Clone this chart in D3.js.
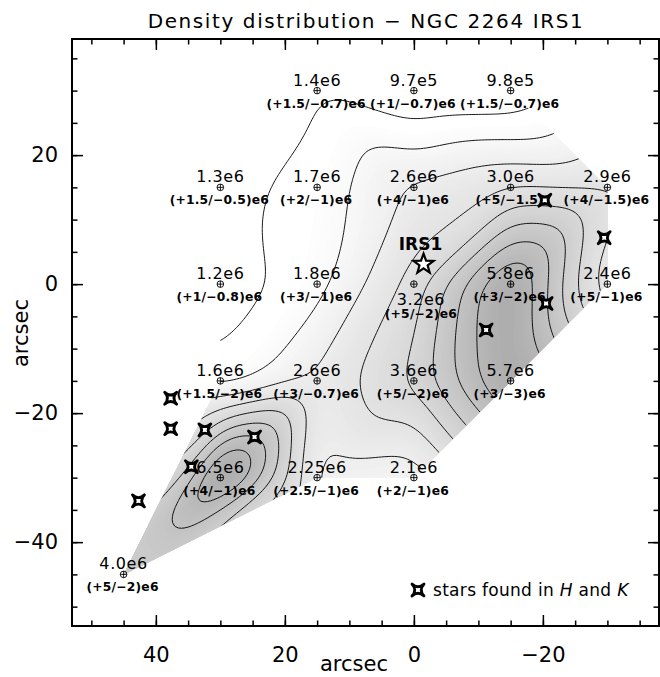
<!DOCTYPE html>
<html>
<head>
<meta charset="utf-8">
<script src="https://cdn.jsdelivr.net/npm/d3@7"></script>
<style>
  body { margin: 0; background: #fff; }
  text { font-family: "DejaVu Sans", sans-serif; }
</style>
</head>
<body>
<div id="chart"></div>
<script>
// measured positions (arcsec offsets), densities and their error strings
const posX = [15, 0, -15, 30, 15, 0, -15, -30, 30, 15, 0, -15, -30, 30, 15, 0, -15, 30, 15, 0, 45];
const posY = [30, 30, 30, 15, 15, 15, 15, 15, 0, 0, 0, 0, 0, -15, -15, -15, -15, -30, -30, -30, -45];
const density = [1.4e6, 9.7e5, 9.8e5, 1.3e6, 1.7e6, 2.6e6, 3.0e6, 2.9e6, 1.2e6, 1.8e6, 3.2e6, 5.8e6, 2.4e6,
  1.6e6, 2.6e6, 3.6e6, 5.7e6, 6.5e6, 2.25e6, 2.1e6, 4.0e6];
const densityText = ["1.4e6", "9.7e5", "9.8e5", "1.3e6", "1.7e6", "2.6e6", "3.0e6", "2.9e6", "1.2e6", "1.8e6",
  "3.2e6", "5.8e6", "2.4e6", "1.6e6", "2.6e6", "3.6e6", "5.7e6", "6.5e6", "2.25e6", "2.1e6", "4.0e6"];
const errorText = ["(+1.5/−0.7)e6", "(+1/−0.7)e6", "(+1.5/−0.7)e6",
  "(+1.5/−0.5)e6", "(+2/−1)e6", "(+4/−1)e6", "(+5/−1.5)", "(+4/−1.5)e6",
  "(+1/−0.8)e6", "(+3/−1)e6", "(+5/−2)e6", "(+3/−2)e6", "(+5/−1)e6",
  "(+1.5/−2)e6", "(+3/−0.7)e6", "(+5/−2)e6", "(+3/−3)e6",
  "(+4/−1)e6", "(+2.5/−1)e6", "(+2/−1)e6", "(+5/−2)e6"];

// outline of the mapped area
const mapOutline = [[45, -45], [30, -15], [30, 15], [15, 30], [-15, 30], [-30, 15], [-30, 0], [0, -30], [15, -30]];

// stars found in H and K
const starX = [-20.3, -29.5, -20.5, -11.2, 37.7, 37.7, 32.4, 24.7, 34.5, 42.7];
const starY = [13.0, 7.2, -3.0, -7.1, -17.7, -22.4, -22.6, -23.7, -28.3, -33.6];
const irs1 = [-1.5, 3.1];

const contourLevels = d3.range(1.5, 6.01, 0.5);   // in units of 1e6
const greyLevels = d3.range(1.5, 9, 0.06);

const xTicksMajor = [40, 20, 0, -20];
const yTicksMajor = [20, 0, -20, -40];

const width = 660, height = 677;
const x = d3.scaleLinear().domain([53, -38]).range([72, 659]);
const y = d3.scaleLinear().domain([38, -53]).range([39, 626]);
const grey = d3.scaleLinear().domain([1.7, 13.5]).range(["#ffffff", "#000000"]).clamp(true);

const svg = d3.select("#chart").append("svg")
  .attr("width", width)
  .attr("height", height);

// ---- linear interpolation on the triangulated points, then a light smoothing ----
const pts = posX.map((d, i) => [d, posY[i]]);
const delaunay = d3.Delaunay.from(pts);
const tris = [];
for (let t = 0; t < delaunay.triangles.length; t += 3) {
  const [a, b, c] = [delaunay.triangles[t], delaunay.triangles[t + 1], delaunay.triangles[t + 2]];
  // test a point a hair off the centroid so it never sits on a horizontal outline edge
  const cen = [(pts[a][0] + pts[b][0] + pts[c][0]) / 3 + 0.013, (pts[a][1] + pts[b][1] + pts[c][1]) / 3 + 0.017];
  if (d3.polygonContains(mapOutline, cen)) tris.push([a, b, c]);
}
function linear(ax, ay) {
  for (const [a, b, c] of tris) {
    const [x1, y1] = pts[a], [x2, y2] = pts[b], [x3, y3] = pts[c];
    const det = (y2 - y3) * (x1 - x3) + (x3 - x2) * (y1 - y3);
    const l1 = ((y2 - y3) * (ax - x3) + (x3 - x2) * (ay - y3)) / det;
    const l2 = ((y3 - y1) * (ax - x3) + (x1 - x3) * (ay - y3)) / det;
    const l3 = 1 - l1 - l2;
    if (l1 >= -1e-9 && l2 >= -1e-9 && l3 >= -1e-9)
      return (l1 * density[a] + l2 * density[b] + l3 * density[c]) / 1e6;
  }
  return NaN;
}

const step = 0.5, gx0 = 49, gy0 = 34, nx = 167, ny = 167;
const num = new Float64Array(nx * ny), den = new Float64Array(nx * ny);
for (let j = 0; j < ny; j++)
  for (let i = 0; i < nx; i++) {
    const v = linear(gx0 - i * step, gy0 - j * step);
    if (!isNaN(v)) { num[j * nx + i] = v; den[j * nx + i] = 1; }
  }

const sigma = 4.5, rad = 14;
const kern = d3.range(-rad, rad + 1).map(k => Math.exp(-k * k / (2 * sigma * sigma)));
function blur(src) {
  const tmp = new Float64Array(nx * ny), out = new Float64Array(nx * ny);
  for (let j = 0; j < ny; j++)
    for (let i = 0; i < nx; i++) {
      let acc = 0;
      for (let k = -rad; k <= rad; k++) {
        const ii = i + k;
        if (ii >= 0 && ii < nx) acc += kern[k + rad] * src[j * nx + ii];
      }
      tmp[j * nx + i] = acc;
    }
  for (let j = 0; j < ny; j++)
    for (let i = 0; i < nx; i++) {
      let acc = 0;
      for (let k = -rad; k <= rad; k++) {
        const jj = j + k;
        if (jj >= 0 && jj < ny) acc += kern[k + rad] * tmp[jj * nx + i];
      }
      out[j * nx + i] = acc;
    }
  return out;
}
const bn = blur(num), bd = blur(den);
const values = new Float64Array(nx * ny);
for (let k = 0; k < values.length; k++) values[k] = bd[k] > 0.3 ? bn[k] / bd[k] : -1;

const proj = d3.geoTransform({
  point(cx, cy) { this.stream.point(x(gx0 - (cx - 0.5) * step), y(gy0 - (cy - 0.5) * step)); }
});
const path = d3.geoPath(proj);
const contours = d3.contours().size([nx, ny]);

svg.append("clipPath").attr("id", "map-clip")
  .append("polygon")
  .attr("points", mapOutline.map(d => [x(d[0]), y(d[1])].join(",")).join(" "));

const map = svg.append("g").attr("clip-path", "url(#map-clip)");
map.append("g").selectAll("path")
  .data(greyLevels)
  .join("path")
  .attr("d", t => path(contours.contour(values, t)))
  .attr("fill", t => grey(t + 0.03));

map.append("g").selectAll("path")
  .data(contourLevels)
  .join("path")
  .attr("d", t => path(contours.contour(values, t)))
  .attr("fill", "none")
  .attr("stroke", "#000")
  .attr("stroke-width", 0.9);

// ---- measured points and labels ----
const marks = svg.append("g");
posX.forEach((px, i) => {
  const cx = x(px), cy = y(posY[i]);
  const below = Math.hypot(px - irs1[0], posY[i] - irs1[1]) < 6;
  marks.append("circle").attr("cx", cx).attr("cy", cy).attr("r", 3.3)
    .attr("fill", "none").attr("stroke", "#000").attr("stroke-width", 0.9);
  marks.append("path")
    .attr("d", `M${cx - 3.3},${cy}H${cx + 3.3}M${cx},${cy - 3.3}V${cy + 3.3}`)
    .attr("stroke", "#000").attr("stroke-width", 0.9);
  marks.append("text")
    .attr("x", cx + (below ? 7 : 0))
    .attr("y", cy + (below ? 21 : -5))
    .attr("text-anchor", "middle")
    .style("font-size", "16px")
    .style("letter-spacing", "0.6px")
    .text(densityText[i]);
  marks.append("text")
    .attr("x", cx + (below ? 7 : -1))
    .attr("y", cy + (below ? 34 : 17))
    .attr("text-anchor", "middle")
    .style("font-size", "12.3px")
    .style("font-weight", "bold")
    .style("letter-spacing", "0.2px")
    .text(errorText[i]);
});

// ---- stars ----
const starPath = "M-6,-6Q0,-0.5 6,-6Q0.5,0 6,6Q0,0.5 -6,6Q-0.5,0 -6,-6Z";
svg.append("g").selectAll("path")
  .data(starX)
  .join("path")
  .attr("transform", (d, i) => `translate(${x(d)},${y(starY[i])})`)
  .attr("d", starPath)
  .attr("fill", "#fff")
  .attr("stroke", "#000")
  .attr("stroke-width", 2.8)
  .attr("stroke-linejoin", "round");

const fivePoint = d3.range(10).map(k => {
  const r = k % 2 ? 4.3 : 10.5, a = -Math.PI / 2 + k * Math.PI / 5;
  return [r * Math.cos(a), r * Math.sin(a)];
});
svg.append("path")
  .attr("transform", `translate(${x(irs1[0])},${y(irs1[1])})`)
  .attr("d", "M" + fivePoint.join("L") + "Z")
  .attr("fill", "#fff")
  .attr("stroke", "#000")
  .attr("stroke-width", 2.2);
svg.append("text")
  .attr("x", x(irs1[0]) - 3)
  .attr("y", y(irs1[1]) - 14)
  .attr("text-anchor", "middle")
  .style("font-size", "17px")
  .style("font-weight", "bold")
  .text("IRS1");

// legend
svg.append("path")
  .attr("transform", "translate(418,590)")
  .attr("d", starPath)
  .attr("fill", "#fff")
  .attr("stroke", "#000")
  .attr("stroke-width", 2.8)
  .attr("stroke-linejoin", "round");
const leg = svg.append("text")
  .attr("x", 433).attr("y", 596)
  .style("font-size", "17px")
  .style("letter-spacing", "0.3px");
leg.append("tspan").text("stars found in ");
leg.append("tspan").style("font-style", "italic").text("H");
leg.append("tspan").text(" and ");
leg.append("tspan").style("font-style", "italic").text("K");

// ---- axes ----
const minorX = d3.range(-35, 51, 5), minorY = d3.range(-50, 36, 5);
const axes = [
  [d3.axisBottom(x), 626, "x"], [d3.axisTop(x), 39, "x"],
  [d3.axisLeft(y), 72, "y"], [d3.axisRight(y), 659, "y"]
];
axes.forEach(([axis, pos, dim], k) => {
  const shift = dim === "x" ? `translate(0,${pos})` : `translate(${pos},0)`;
  const minor = svg.append("g").attr("transform", shift)
    .call(axis.tickValues(dim === "x" ? minorX : minorY).tickSize(-5.5).tickFormat(""));
  const major = svg.append("g").attr("transform", shift)
    .call(axis.tickValues(dim === "x" ? xTicksMajor : yTicksMajor).tickSize(-11)
      .tickPadding(dim === "x" ? 21 : 14)
      .tickFormat(k === 0 || k === 2 ? d3.format("d") : ""));
  [minor, major].forEach(a => {
    a.select(".domain").remove();
    a.selectAll("line").attr("stroke-width", 1.5);
  });
  major.selectAll("text").style("font-size", "21px").attr("fill", "#000")
    .style("font-family", '"DejaVu Sans", sans-serif');
});

svg.append("rect")
  .attr("x", 72).attr("y", 39)
  .attr("width", 587).attr("height", 587)
  .attr("fill", "none")
  .attr("stroke", "#000")
  .attr("stroke-width", 2);

svg.append("text")
  .attr("x", 366).attr("y", 28)
  .attr("text-anchor", "middle")
  .style("font-size", "20px")
  .style("letter-spacing", "1.6px")
  .text("Density distribution − NGC 2264 IRS1");

svg.append("text")
  .attr("x", 354).attr("y", 671)
  .attr("text-anchor", "middle")
  .style("font-size", "21px")
  .text("arcsec");

svg.append("text")
  .attr("transform", "translate(28,333) rotate(-90)")
  .attr("text-anchor", "middle")
  .style("font-size", "21px")
  .text("arcsec");
</script>
</body>
</html>
